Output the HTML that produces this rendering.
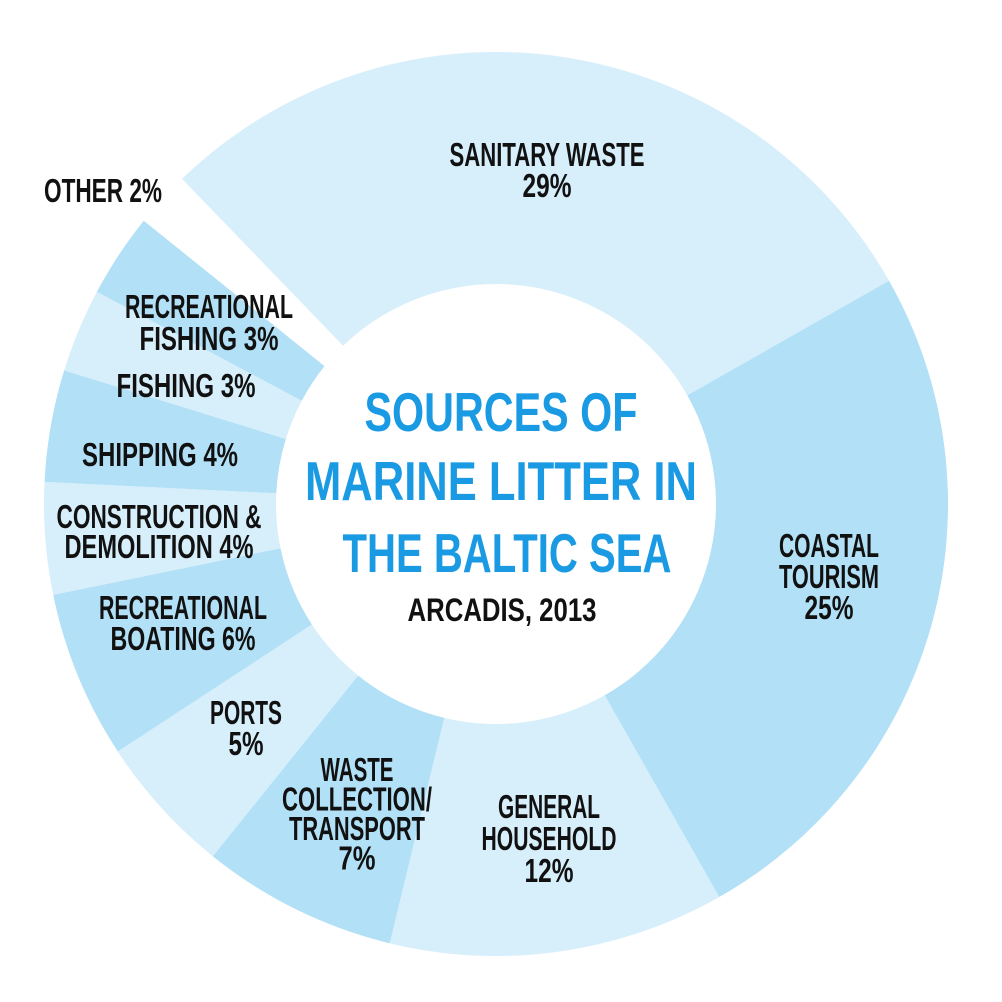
<!DOCTYPE html>
<html><head><meta charset="utf-8"><style>
html,body{margin:0;padding:0;background:#fff;}
svg{display:block;}
text{font-family:"Liberation Sans",sans-serif;font-weight:bold;}
</style></head><body>
<svg id="chart" width="1002" height="1002" viewBox="0 0 1002 1002" xmlns="http://www.w3.org/2000/svg">
<g id="slices"></g>
<g id="labels"></g>
<g fill="#1b9ae4" font-size="55" text-anchor="middle">
<text x="501" y="431" textLength="273" lengthAdjust="spacingAndGlyphs">SOURCES OF</text>
<text x="501" y="500" textLength="392" lengthAdjust="spacingAndGlyphs">MARINE LITTER IN</text>
<text x="507" y="572" textLength="329" lengthAdjust="spacingAndGlyphs">THE BALTIC SEA</text>
</g>
<text x="502" y="621" font-size="32" fill="#111" text-anchor="middle" textLength="189" lengthAdjust="spacingAndGlyphs">ARCADIS, 2013</text>
</svg>
<script>
const categories = ["Sanitary waste","Coastal tourism","General household","Waste collection/transport","Ports","Recreational boating","Construction & demolition","Shipping","Fishing","Recreational fishing","Other"];
const values = [29,25,12,7,5,6,4,4,3,3,2];
const colors = ["#d7eefb","#b2e0f6","#d7eefb","#b2e0f6","#d7eefb","#b2e0f6","#d7eefb","#b2e0f6","#d7eefb","#b2e0f6","none"];
const labelLines = [["SANITARY WASTE","29%"],["COASTAL","TOURISM","25%"],["GENERAL","HOUSEHOLD","12%"],["WASTE","COLLECTION/","TRANSPORT","7%"],["PORTS","5%"],["RECREATIONAL","BOATING 6%"],["CONSTRUCTION &","DEMOLITION 4%"],["SHIPPING 4%"],["FISHING 3%"],["RECREATIONAL","FISHING 3%"],["OTHER 2%"]];
const labelAnchors = [[547,166,31],[829,557,31],[549,818,32],[357,781,29.5],[246,724,31],[183,619,31],[159,528,30],[160,466,0],[186,397,0],[209,318,32],[103,202,0]];
const labelWidths = [[195,49],[100,100,49],[102,135,49],[73,150,136,37],[72,35],[168,145],[205,189],[156],[139],[168,139],[118]];
const cx=496, cy=504, R=452, r=220, startDeg=316;
const NS="http://www.w3.org/2000/svg";
const total = values.reduce((a,b)=>a+b,0);
function pt(deg, rad){const a=deg*Math.PI/180;return [cx+rad*Math.sin(a), cy-rad*Math.cos(a)];}
const gs=document.getElementById('slices');
let acc=startDeg;
values.forEach((v,i)=>{
  const span=v/total*360, a0=acc, a1=acc+span; acc=a1;
  if(colors[i]==="none") return;
  const p0=pt(a0,R),p1=pt(a1,R),p2=pt(a1,r),p3=pt(a0,r);
  const lg=span>180?1:0;
  const d=`M${p0[0]},${p0[1]} A${R},${R} 0 ${lg} 1 ${p1[0]},${p1[1]} L${p2[0]},${p2[1]} A${r},${r} 0 ${lg} 0 ${p3[0]},${p3[1]} Z`;
  const path=document.createElementNS(NS,'path');
  path.setAttribute('d',d);
  path.setAttribute('fill',colors[i]);
  
  
  gs.appendChild(path);
});
const gl=document.getElementById('labels');
labelLines.forEach((lines,i)=>{
  const [x,y,lh]=labelAnchors[i];
  lines.forEach((s,j)=>{
    const t=document.createElementNS(NS,'text');
    t.setAttribute('x',x);
    t.setAttribute('y',y+j*lh);
    t.setAttribute('font-size','33');
    t.setAttribute('fill','#111');
    t.setAttribute('text-anchor','middle');
    t.setAttribute('textLength',labelWidths[i][j]);
    t.setAttribute('lengthAdjust','spacingAndGlyphs');
    
    
    t.textContent=s;
    gl.appendChild(t);
  });
});
</script>
</body></html>
